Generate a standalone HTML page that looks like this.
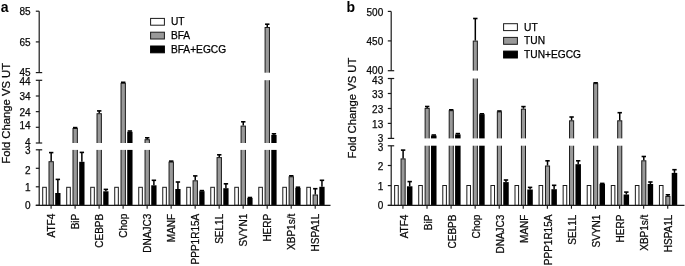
<!DOCTYPE html>
<html><head><meta charset="utf-8"><style>
html,body{margin:0;padding:0;background:#fff;}
body{width:685px;height:266px;overflow:hidden;}
svg{display:block;filter:grayscale(1);}
.t{font-family:"Liberation Sans",sans-serif;font-size:10px;fill:#0a0a0a;stroke:#0a0a0a;stroke-width:0.25px;}
.x{font-family:"Liberation Sans",sans-serif;font-size:10px;fill:#0a0a0a;stroke:#0a0a0a;stroke-width:0.25px;}
.lg{font-family:"Liberation Sans",sans-serif;font-size:10.2px;fill:#000;stroke:#000;stroke-width:0.25px;}
.yt{font-family:"Liberation Sans",sans-serif;font-size:11.28px;fill:#0a0a0a;stroke:#0a0a0a;stroke-width:0.25px;}
.pl{font-family:"Liberation Sans",sans-serif;font-size:14px;font-weight:bold;fill:#000;}
</style></head><body>
<svg width="685" height="266" viewBox="0 0 685 266">
<rect width="685" height="266" fill="#fff"/>
<rect x="42.7" y="187.3" width="3.6" height="18" fill="#fff" stroke="#1a1a1a" stroke-width="1"/>
<rect x="49" y="161.7" width="4.35" height="43.6" fill="#999999" stroke="#1a1a1a" stroke-width="1"/>
<line x1="51.17" y1="152.6" x2="51.17" y2="161.2" stroke="#000" stroke-width="1.5"/>
<line x1="48.97" y1="152.6" x2="53.38" y2="152.6" stroke="#000" stroke-width="1.6"/>
<rect x="55.2" y="193" width="5.3" height="12.3" fill="#000"/>
<line x1="57.85" y1="179.4" x2="57.85" y2="193" stroke="#000" stroke-width="1.5"/>
<line x1="55.65" y1="179.4" x2="60.05" y2="179.4" stroke="#000" stroke-width="1.6"/>
<rect x="66.71" y="187.3" width="3.6" height="18" fill="#fff" stroke="#1a1a1a" stroke-width="1"/>
<rect x="73.01" y="128.5" width="4.35" height="76.8" fill="#999999" stroke="#1a1a1a" stroke-width="1"/>
<line x1="75.19" y1="127.6" x2="75.19" y2="128" stroke="#000" stroke-width="1.5"/>
<line x1="72.98" y1="127.6" x2="77.39" y2="127.6" stroke="#000" stroke-width="1.6"/>
<rect x="79.21" y="161.8" width="5.3" height="43.5" fill="#000"/>
<line x1="81.86" y1="152.4" x2="81.86" y2="161.8" stroke="#000" stroke-width="1.5"/>
<line x1="79.66" y1="152.4" x2="84.06" y2="152.4" stroke="#000" stroke-width="1.6"/>
<rect x="90.72" y="187.3" width="3.6" height="18" fill="#fff" stroke="#1a1a1a" stroke-width="1"/>
<rect x="97.02" y="113.7" width="4.35" height="91.6" fill="#999999" stroke="#1a1a1a" stroke-width="1"/>
<line x1="99.2" y1="110.9" x2="99.2" y2="113.2" stroke="#000" stroke-width="1.5"/>
<line x1="97" y1="110.9" x2="101.4" y2="110.9" stroke="#000" stroke-width="1.6"/>
<rect x="103.22" y="191.3" width="5.3" height="14" fill="#000"/>
<line x1="105.87" y1="189.4" x2="105.87" y2="191.3" stroke="#000" stroke-width="1.5"/>
<line x1="103.67" y1="189.4" x2="108.07" y2="189.4" stroke="#000" stroke-width="1.6"/>
<rect x="114.73" y="187.3" width="3.6" height="18" fill="#fff" stroke="#1a1a1a" stroke-width="1"/>
<rect x="121.03" y="83.3" width="4.35" height="122" fill="#999999" stroke="#1a1a1a" stroke-width="1"/>
<line x1="123.2" y1="82.3" x2="123.2" y2="82.8" stroke="#000" stroke-width="1.5"/>
<line x1="121" y1="82.3" x2="125.41" y2="82.3" stroke="#000" stroke-width="1.6"/>
<rect x="127.23" y="131.8" width="5.3" height="73.5" fill="#000"/>
<line x1="129.88" y1="131" x2="129.88" y2="131.8" stroke="#000" stroke-width="1.5"/>
<line x1="127.68" y1="131" x2="132.08" y2="131" stroke="#000" stroke-width="1.6"/>
<rect x="138.74" y="187.3" width="3.6" height="18" fill="#fff" stroke="#1a1a1a" stroke-width="1"/>
<rect x="145.04" y="139.7" width="4.35" height="65.6" fill="#999999" stroke="#1a1a1a" stroke-width="1"/>
<line x1="147.22" y1="137.8" x2="147.22" y2="139.2" stroke="#000" stroke-width="1.5"/>
<line x1="145.02" y1="137.8" x2="149.42" y2="137.8" stroke="#000" stroke-width="1.6"/>
<rect x="151.24" y="185.3" width="5.3" height="20" fill="#000"/>
<line x1="153.89" y1="180.3" x2="153.89" y2="185.3" stroke="#000" stroke-width="1.5"/>
<line x1="151.69" y1="180.3" x2="156.09" y2="180.3" stroke="#000" stroke-width="1.6"/>
<rect x="162.75" y="187.3" width="3.6" height="18" fill="#fff" stroke="#1a1a1a" stroke-width="1"/>
<rect x="169.05" y="162.1" width="4.35" height="43.2" fill="#999999" stroke="#1a1a1a" stroke-width="1"/>
<line x1="171.23" y1="161.1" x2="171.23" y2="161.6" stroke="#000" stroke-width="1.5"/>
<line x1="169.03" y1="161.1" x2="173.43" y2="161.1" stroke="#000" stroke-width="1.6"/>
<rect x="175.25" y="189" width="5.3" height="16.3" fill="#000"/>
<line x1="177.9" y1="182" x2="177.9" y2="189" stroke="#000" stroke-width="1.5"/>
<line x1="175.7" y1="182" x2="180.1" y2="182" stroke="#000" stroke-width="1.6"/>
<rect x="186.76" y="187.3" width="3.6" height="18" fill="#fff" stroke="#1a1a1a" stroke-width="1"/>
<rect x="193.06" y="180.8" width="4.35" height="24.5" fill="#999999" stroke="#1a1a1a" stroke-width="1"/>
<line x1="195.24" y1="175.9" x2="195.24" y2="180.3" stroke="#000" stroke-width="1.5"/>
<line x1="193.04" y1="175.9" x2="197.44" y2="175.9" stroke="#000" stroke-width="1.6"/>
<rect x="199.26" y="191.2" width="5.3" height="14.1" fill="#000"/>
<line x1="201.91" y1="190.6" x2="201.91" y2="191.2" stroke="#000" stroke-width="1.5"/>
<line x1="199.71" y1="190.6" x2="204.11" y2="190.6" stroke="#000" stroke-width="1.6"/>
<rect x="210.77" y="187.3" width="3.6" height="18" fill="#fff" stroke="#1a1a1a" stroke-width="1"/>
<rect x="217.07" y="157.6" width="4.35" height="47.7" fill="#999999" stroke="#1a1a1a" stroke-width="1"/>
<line x1="219.25" y1="154.8" x2="219.25" y2="157.1" stroke="#000" stroke-width="1.5"/>
<line x1="217.05" y1="154.8" x2="221.44" y2="154.8" stroke="#000" stroke-width="1.6"/>
<rect x="223.27" y="188.2" width="5.3" height="17.1" fill="#000"/>
<line x1="225.92" y1="183.8" x2="225.92" y2="188.2" stroke="#000" stroke-width="1.5"/>
<line x1="223.72" y1="183.8" x2="228.12" y2="183.8" stroke="#000" stroke-width="1.6"/>
<rect x="234.78" y="187.3" width="3.6" height="18" fill="#fff" stroke="#1a1a1a" stroke-width="1"/>
<rect x="241.08" y="126.1" width="4.35" height="79.2" fill="#999999" stroke="#1a1a1a" stroke-width="1"/>
<line x1="243.25" y1="121.8" x2="243.25" y2="125.6" stroke="#000" stroke-width="1.5"/>
<line x1="241.06" y1="121.8" x2="245.45" y2="121.8" stroke="#000" stroke-width="1.6"/>
<rect x="247.28" y="198" width="5.3" height="7.3" fill="#000"/>
<line x1="249.93" y1="197.5" x2="249.93" y2="198" stroke="#000" stroke-width="1.5"/>
<line x1="247.73" y1="197.5" x2="252.13" y2="197.5" stroke="#000" stroke-width="1.6"/>
<rect x="258.79" y="187.3" width="3.6" height="18" fill="#fff" stroke="#1a1a1a" stroke-width="1"/>
<rect x="265.09" y="27.5" width="4.35" height="177.8" fill="#999999" stroke="#1a1a1a" stroke-width="1"/>
<line x1="267.26" y1="24.2" x2="267.26" y2="27" stroke="#000" stroke-width="1.5"/>
<line x1="265.06" y1="24.2" x2="269.46" y2="24.2" stroke="#000" stroke-width="1.6"/>
<rect x="271.29" y="135" width="5.3" height="70.3" fill="#000"/>
<line x1="273.94" y1="133.8" x2="273.94" y2="135" stroke="#000" stroke-width="1.5"/>
<line x1="271.74" y1="133.8" x2="276.14" y2="133.8" stroke="#000" stroke-width="1.6"/>
<rect x="282.8" y="187.3" width="3.6" height="18" fill="#fff" stroke="#1a1a1a" stroke-width="1"/>
<rect x="289.1" y="176.8" width="4.35" height="28.5" fill="#999999" stroke="#1a1a1a" stroke-width="1"/>
<line x1="291.28" y1="175.8" x2="291.28" y2="176.3" stroke="#000" stroke-width="1.5"/>
<line x1="289.08" y1="175.8" x2="293.48" y2="175.8" stroke="#000" stroke-width="1.6"/>
<rect x="295.3" y="187.9" width="5.3" height="17.4" fill="#000"/>
<line x1="297.95" y1="187.2" x2="297.95" y2="187.9" stroke="#000" stroke-width="1.5"/>
<line x1="295.75" y1="187.2" x2="300.15" y2="187.2" stroke="#000" stroke-width="1.6"/>
<rect x="306.81" y="187.3" width="3.6" height="18" fill="#fff" stroke="#1a1a1a" stroke-width="1"/>
<rect x="313.11" y="195" width="4.35" height="10.3" fill="#999999" stroke="#1a1a1a" stroke-width="1"/>
<line x1="315.29" y1="188.7" x2="315.29" y2="194.5" stroke="#000" stroke-width="1.5"/>
<line x1="313.09" y1="188.7" x2="317.49" y2="188.7" stroke="#000" stroke-width="1.6"/>
<rect x="319.31" y="186.8" width="5.3" height="18.5" fill="#000"/>
<line x1="321.96" y1="180.3" x2="321.96" y2="186.8" stroke="#000" stroke-width="1.5"/>
<line x1="319.76" y1="180.3" x2="324.16" y2="180.3" stroke="#000" stroke-width="1.6"/>
<rect x="40.7" y="143" width="291.3" height="6.9" fill="#fff"/>
<rect x="40.7" y="72.7" width="291.3" height="7.5" fill="#fff"/>
<line x1="39.2" y1="11.2" x2="39.2" y2="72.6" stroke="#1a1a1a" stroke-width="1.2"/>
<line x1="35.8" y1="11.2" x2="39.2" y2="11.2" stroke="#1a1a1a" stroke-width="1.2"/>
<line x1="35.8" y1="72.6" x2="42.2" y2="72.6" stroke="#1a1a1a" stroke-width="1.2"/>
<line x1="39.2" y1="80.3" x2="39.2" y2="143" stroke="#1a1a1a" stroke-width="1.2"/>
<line x1="35.8" y1="80.3" x2="42.2" y2="80.3" stroke="#1a1a1a" stroke-width="1.2"/>
<line x1="35.8" y1="143" x2="42.2" y2="143" stroke="#1a1a1a" stroke-width="1.2"/>
<line x1="39.2" y1="149.8" x2="39.2" y2="205.3" stroke="#1a1a1a" stroke-width="1.2"/>
<line x1="35.8" y1="149.8" x2="42.2" y2="149.8" stroke="#1a1a1a" stroke-width="1.2"/>
<line x1="35.8" y1="205.3" x2="39.2" y2="205.3" stroke="#1a1a1a" stroke-width="1.2"/>
<line x1="35.8" y1="41.9" x2="39.2" y2="41.9" stroke="#1a1a1a" stroke-width="1.2"/>
<line x1="35.8" y1="96" x2="39.2" y2="96" stroke="#1a1a1a" stroke-width="1.2"/>
<line x1="35.8" y1="111.65" x2="39.2" y2="111.65" stroke="#1a1a1a" stroke-width="1.2"/>
<line x1="35.8" y1="127.3" x2="39.2" y2="127.3" stroke="#1a1a1a" stroke-width="1.2"/>
<line x1="35.8" y1="168.3" x2="39.2" y2="168.3" stroke="#1a1a1a" stroke-width="1.2"/>
<line x1="35.8" y1="186.8" x2="39.2" y2="186.8" stroke="#1a1a1a" stroke-width="1.2"/>
<text transform="translate(30.6,15)" text-anchor="end" class="t">85</text>
<text transform="translate(30.6,45.7)" text-anchor="end" class="t">65</text>
<text transform="translate(30.6,75.8)" text-anchor="end" class="t">45</text>
<text transform="translate(30.6,84.9)" text-anchor="end" class="t">44</text>
<text transform="translate(30.6,100.1)" text-anchor="end" class="t">34</text>
<text transform="translate(30.6,115.7)" text-anchor="end" class="t">24</text>
<text transform="translate(30.6,129.2)" text-anchor="end" class="t">14</text>
<text transform="translate(30.6,145.8)" text-anchor="end" class="t">4</text>
<text transform="translate(30.6,154.1)" text-anchor="end" class="t">3</text>
<text transform="translate(30.6,173.6)" text-anchor="end" class="t">2</text>
<text transform="translate(30.6,191.1)" text-anchor="end" class="t">1</text>
<text transform="translate(30.6,209.2)" text-anchor="end" class="t">0</text>
<line x1="35.8" y1="205.3" x2="330.5" y2="205.3" stroke="#1a1a1a" stroke-width="1.2"/>
<line x1="51.1" y1="205.3" x2="51.1" y2="208.7" stroke="#1a1a1a" stroke-width="1.1"/>
<text transform="translate(55.3,213.8) rotate(-90)" text-anchor="end" class="x">ATF4</text>
<line x1="75.11" y1="205.3" x2="75.11" y2="208.7" stroke="#1a1a1a" stroke-width="1.1"/>
<text transform="translate(79.31,213.8) rotate(-90)" text-anchor="end" class="x">BiP</text>
<line x1="99.12" y1="205.3" x2="99.12" y2="208.7" stroke="#1a1a1a" stroke-width="1.1"/>
<text transform="translate(103.32,213.8) rotate(-90)" text-anchor="end" class="x">CEBPB</text>
<line x1="123.13" y1="205.3" x2="123.13" y2="208.7" stroke="#1a1a1a" stroke-width="1.1"/>
<text transform="translate(127.33,213.8) rotate(-90)" text-anchor="end" class="x">Chop</text>
<line x1="147.14" y1="205.3" x2="147.14" y2="208.7" stroke="#1a1a1a" stroke-width="1.1"/>
<text transform="translate(151.34,213.8) rotate(-90)" text-anchor="end" class="x">DNAJC3</text>
<line x1="171.15" y1="205.3" x2="171.15" y2="208.7" stroke="#1a1a1a" stroke-width="1.1"/>
<text transform="translate(175.35,213.8) rotate(-90)" text-anchor="end" class="x">MANF</text>
<line x1="195.16" y1="205.3" x2="195.16" y2="208.7" stroke="#1a1a1a" stroke-width="1.1"/>
<text transform="translate(199.36,213.8) rotate(-90)" text-anchor="end" class="x">PPP1R15A</text>
<line x1="219.17" y1="205.3" x2="219.17" y2="208.7" stroke="#1a1a1a" stroke-width="1.1"/>
<text transform="translate(223.37,213.8) rotate(-90)" text-anchor="end" class="x">SEL1L</text>
<line x1="243.18" y1="205.3" x2="243.18" y2="208.7" stroke="#1a1a1a" stroke-width="1.1"/>
<text transform="translate(247.38,213.8) rotate(-90)" text-anchor="end" class="x">SVYN1</text>
<line x1="267.19" y1="205.3" x2="267.19" y2="208.7" stroke="#1a1a1a" stroke-width="1.1"/>
<text transform="translate(271.39,213.8) rotate(-90)" text-anchor="end" class="x">HERP</text>
<line x1="291.2" y1="205.3" x2="291.2" y2="208.7" stroke="#1a1a1a" stroke-width="1.1"/>
<text transform="translate(295.4,213.8) rotate(-90)" text-anchor="end" class="x">XBP1s/t</text>
<line x1="315.21" y1="205.3" x2="315.21" y2="208.7" stroke="#1a1a1a" stroke-width="1.1"/>
<text transform="translate(319.41,213.8) rotate(-90)" text-anchor="end" class="x">HSPA1L</text>
<text transform="translate(9.8,113.3) rotate(-90)" text-anchor="middle" class="yt">Fold Change VS UT</text>
<text x="0.7" y="11.7" class="pl">a</text>
<rect x="150.6" y="18.4" width="13.8" height="6.8" fill="#fff" stroke="#1a1a1a" stroke-width="1"/>
<text x="170.9" y="25.3" class="lg">UT</text>
<rect x="150.6" y="32.2" width="13.8" height="6.8" fill="#999999" stroke="#1a1a1a" stroke-width="1"/>
<text x="170.9" y="39.1" class="lg">BFA</text>
<rect x="150.6" y="46" width="13.8" height="6.8" fill="#000" stroke="#000" stroke-width="1"/>
<text x="170.9" y="52.9" class="lg">BFA+EGCG</text>
<rect x="394.65" y="185.5" width="3.6" height="19.9" fill="#fff" stroke="#1a1a1a" stroke-width="1"/>
<rect x="401.05" y="158.9" width="4.1" height="46.5" fill="#999999" stroke="#1a1a1a" stroke-width="1"/>
<line x1="403.1" y1="150.1" x2="403.1" y2="158.4" stroke="#000" stroke-width="1.5"/>
<line x1="400.9" y1="150.1" x2="405.3" y2="150.1" stroke="#000" stroke-width="1.6"/>
<rect x="406.95" y="186.3" width="5.5" height="19.1" fill="#000"/>
<line x1="409.7" y1="181.6" x2="409.7" y2="186.3" stroke="#000" stroke-width="1.5"/>
<line x1="407.5" y1="181.6" x2="411.9" y2="181.6" stroke="#000" stroke-width="1.6"/>
<rect x="418.72" y="185.5" width="3.6" height="19.9" fill="#fff" stroke="#1a1a1a" stroke-width="1"/>
<rect x="425.12" y="108.4" width="4.1" height="97" fill="#999999" stroke="#1a1a1a" stroke-width="1"/>
<line x1="427.17" y1="106.5" x2="427.17" y2="107.9" stroke="#000" stroke-width="1.5"/>
<line x1="424.97" y1="106.5" x2="429.37" y2="106.5" stroke="#000" stroke-width="1.6"/>
<rect x="431.02" y="135.5" width="5.5" height="69.9" fill="#000"/>
<line x1="433.77" y1="135" x2="433.77" y2="135.5" stroke="#000" stroke-width="1.5"/>
<line x1="431.57" y1="135" x2="435.97" y2="135" stroke="#000" stroke-width="1.6"/>
<rect x="442.79" y="185.5" width="3.6" height="19.9" fill="#fff" stroke="#1a1a1a" stroke-width="1"/>
<rect x="449.19" y="110.7" width="4.1" height="94.7" fill="#999999" stroke="#1a1a1a" stroke-width="1"/>
<line x1="451.24" y1="109.8" x2="451.24" y2="110.2" stroke="#000" stroke-width="1.5"/>
<line x1="449.04" y1="109.8" x2="453.44" y2="109.8" stroke="#000" stroke-width="1.6"/>
<rect x="455.09" y="134.4" width="5.5" height="71" fill="#000"/>
<line x1="457.84" y1="133.6" x2="457.84" y2="134.4" stroke="#000" stroke-width="1.5"/>
<line x1="455.64" y1="133.6" x2="460.04" y2="133.6" stroke="#000" stroke-width="1.6"/>
<rect x="466.86" y="185.5" width="3.6" height="19.9" fill="#fff" stroke="#1a1a1a" stroke-width="1"/>
<rect x="473.26" y="41.1" width="4.1" height="164.3" fill="#999999" stroke="#1a1a1a" stroke-width="1"/>
<line x1="475.31" y1="18.5" x2="475.31" y2="40.6" stroke="#000" stroke-width="1.5"/>
<line x1="473.11" y1="18.5" x2="477.51" y2="18.5" stroke="#000" stroke-width="1.6"/>
<rect x="479.16" y="114.2" width="5.5" height="91.2" fill="#000"/>
<line x1="481.91" y1="113.8" x2="481.91" y2="114.2" stroke="#000" stroke-width="1.5"/>
<line x1="479.71" y1="113.8" x2="484.11" y2="113.8" stroke="#000" stroke-width="1.6"/>
<rect x="490.93" y="185.5" width="3.6" height="19.9" fill="#fff" stroke="#1a1a1a" stroke-width="1"/>
<rect x="497.33" y="111.9" width="4.1" height="93.5" fill="#999999" stroke="#1a1a1a" stroke-width="1"/>
<line x1="499.38" y1="111" x2="499.38" y2="111.4" stroke="#000" stroke-width="1.5"/>
<line x1="497.18" y1="111" x2="501.58" y2="111" stroke="#000" stroke-width="1.6"/>
<rect x="503.23" y="182.1" width="5.5" height="23.3" fill="#000"/>
<line x1="505.98" y1="180" x2="505.98" y2="182.1" stroke="#000" stroke-width="1.5"/>
<line x1="503.78" y1="180" x2="508.18" y2="180" stroke="#000" stroke-width="1.6"/>
<rect x="515" y="185.5" width="3.6" height="19.9" fill="#fff" stroke="#1a1a1a" stroke-width="1"/>
<rect x="521.4" y="109.2" width="4.1" height="96.2" fill="#999999" stroke="#1a1a1a" stroke-width="1"/>
<line x1="523.45" y1="106.6" x2="523.45" y2="108.7" stroke="#000" stroke-width="1.5"/>
<line x1="521.25" y1="106.6" x2="525.65" y2="106.6" stroke="#000" stroke-width="1.6"/>
<rect x="527.3" y="189.5" width="5.5" height="15.9" fill="#000"/>
<line x1="530.05" y1="187.4" x2="530.05" y2="189.5" stroke="#000" stroke-width="1.5"/>
<line x1="527.85" y1="187.4" x2="532.25" y2="187.4" stroke="#000" stroke-width="1.6"/>
<rect x="539.07" y="185.5" width="3.6" height="19.9" fill="#fff" stroke="#1a1a1a" stroke-width="1"/>
<rect x="545.47" y="166" width="4.1" height="39.4" fill="#999999" stroke="#1a1a1a" stroke-width="1"/>
<line x1="547.52" y1="160.8" x2="547.52" y2="165.5" stroke="#000" stroke-width="1.5"/>
<line x1="545.32" y1="160.8" x2="549.72" y2="160.8" stroke="#000" stroke-width="1.6"/>
<rect x="551.37" y="189.2" width="5.5" height="16.2" fill="#000"/>
<line x1="554.12" y1="185.3" x2="554.12" y2="189.2" stroke="#000" stroke-width="1.5"/>
<line x1="551.92" y1="185.3" x2="556.32" y2="185.3" stroke="#000" stroke-width="1.6"/>
<rect x="563.14" y="185.5" width="3.6" height="19.9" fill="#fff" stroke="#1a1a1a" stroke-width="1"/>
<rect x="569.54" y="120.8" width="4.1" height="84.6" fill="#999999" stroke="#1a1a1a" stroke-width="1"/>
<line x1="571.59" y1="117" x2="571.59" y2="120.3" stroke="#000" stroke-width="1.5"/>
<line x1="569.39" y1="117" x2="573.79" y2="117" stroke="#000" stroke-width="1.6"/>
<rect x="575.44" y="164.2" width="5.5" height="41.2" fill="#000"/>
<line x1="578.19" y1="160.8" x2="578.19" y2="164.2" stroke="#000" stroke-width="1.5"/>
<line x1="575.99" y1="160.8" x2="580.39" y2="160.8" stroke="#000" stroke-width="1.6"/>
<rect x="587.21" y="185.5" width="3.6" height="19.9" fill="#fff" stroke="#1a1a1a" stroke-width="1"/>
<rect x="593.61" y="83.7" width="4.1" height="121.7" fill="#999999" stroke="#1a1a1a" stroke-width="1"/>
<line x1="595.66" y1="82.8" x2="595.66" y2="83.2" stroke="#000" stroke-width="1.5"/>
<line x1="593.46" y1="82.8" x2="597.86" y2="82.8" stroke="#000" stroke-width="1.6"/>
<rect x="599.51" y="183.8" width="5.5" height="21.6" fill="#000"/>
<line x1="602.26" y1="183.4" x2="602.26" y2="183.8" stroke="#000" stroke-width="1.5"/>
<line x1="600.06" y1="183.4" x2="604.46" y2="183.4" stroke="#000" stroke-width="1.6"/>
<rect x="611.28" y="185.5" width="3.6" height="19.9" fill="#fff" stroke="#1a1a1a" stroke-width="1"/>
<rect x="617.68" y="120.8" width="4.1" height="84.6" fill="#999999" stroke="#1a1a1a" stroke-width="1"/>
<line x1="619.73" y1="112.7" x2="619.73" y2="120.3" stroke="#000" stroke-width="1.5"/>
<line x1="617.53" y1="112.7" x2="621.93" y2="112.7" stroke="#000" stroke-width="1.6"/>
<rect x="623.58" y="194.5" width="5.5" height="10.9" fill="#000"/>
<line x1="626.33" y1="192.1" x2="626.33" y2="194.5" stroke="#000" stroke-width="1.5"/>
<line x1="624.13" y1="192.1" x2="628.53" y2="192.1" stroke="#000" stroke-width="1.6"/>
<rect x="635.35" y="185.5" width="3.6" height="19.9" fill="#fff" stroke="#1a1a1a" stroke-width="1"/>
<rect x="641.75" y="160.8" width="4.1" height="44.6" fill="#999999" stroke="#1a1a1a" stroke-width="1"/>
<line x1="643.8" y1="156.5" x2="643.8" y2="160.3" stroke="#000" stroke-width="1.5"/>
<line x1="641.6" y1="156.5" x2="646" y2="156.5" stroke="#000" stroke-width="1.6"/>
<rect x="647.65" y="184" width="5.5" height="21.4" fill="#000"/>
<line x1="650.4" y1="182" x2="650.4" y2="184" stroke="#000" stroke-width="1.5"/>
<line x1="648.2" y1="182" x2="652.6" y2="182" stroke="#000" stroke-width="1.6"/>
<rect x="659.42" y="185.5" width="3.6" height="19.9" fill="#fff" stroke="#1a1a1a" stroke-width="1"/>
<rect x="665.82" y="196.5" width="4.1" height="8.9" fill="#999999" stroke="#1a1a1a" stroke-width="1"/>
<line x1="667.87" y1="194.8" x2="667.87" y2="196" stroke="#000" stroke-width="1.5"/>
<line x1="665.67" y1="194.8" x2="670.07" y2="194.8" stroke="#000" stroke-width="1.6"/>
<rect x="671.72" y="172.9" width="5.5" height="32.5" fill="#000"/>
<line x1="674.47" y1="169.7" x2="674.47" y2="172.9" stroke="#000" stroke-width="1.5"/>
<line x1="672.27" y1="169.7" x2="676.67" y2="169.7" stroke="#000" stroke-width="1.6"/>
<rect x="392.7" y="138.4" width="293.3" height="7.3" fill="#fff"/>
<rect x="392.7" y="70.6" width="293.3" height="7.9" fill="#fff"/>
<line x1="391.2" y1="11.4" x2="391.2" y2="70.7" stroke="#1a1a1a" stroke-width="1.2"/>
<line x1="387.8" y1="11.4" x2="391.2" y2="11.4" stroke="#1a1a1a" stroke-width="1.2"/>
<line x1="387.8" y1="70.7" x2="394.2" y2="70.7" stroke="#1a1a1a" stroke-width="1.2"/>
<line x1="391.2" y1="78.5" x2="391.2" y2="138.4" stroke="#1a1a1a" stroke-width="1.2"/>
<line x1="387.8" y1="78.5" x2="394.2" y2="78.5" stroke="#1a1a1a" stroke-width="1.2"/>
<line x1="387.8" y1="138.4" x2="394.2" y2="138.4" stroke="#1a1a1a" stroke-width="1.2"/>
<line x1="391.2" y1="145.8" x2="391.2" y2="205.4" stroke="#1a1a1a" stroke-width="1.2"/>
<line x1="387.8" y1="145.8" x2="394.2" y2="145.8" stroke="#1a1a1a" stroke-width="1.2"/>
<line x1="387.8" y1="205.4" x2="391.2" y2="205.4" stroke="#1a1a1a" stroke-width="1.2"/>
<line x1="387.8" y1="40.9" x2="391.2" y2="40.9" stroke="#1a1a1a" stroke-width="1.2"/>
<line x1="387.8" y1="93.5" x2="391.2" y2="93.5" stroke="#1a1a1a" stroke-width="1.2"/>
<line x1="387.8" y1="108.5" x2="391.2" y2="108.5" stroke="#1a1a1a" stroke-width="1.2"/>
<line x1="387.8" y1="123.4" x2="391.2" y2="123.4" stroke="#1a1a1a" stroke-width="1.2"/>
<line x1="387.8" y1="165.5" x2="391.2" y2="165.5" stroke="#1a1a1a" stroke-width="1.2"/>
<line x1="387.8" y1="185.6" x2="391.2" y2="185.6" stroke="#1a1a1a" stroke-width="1.2"/>
<text transform="translate(383.2,15.55)" text-anchor="end" class="t">500</text>
<text transform="translate(383.2,44.6)" text-anchor="end" class="t">450</text>
<text transform="translate(383.2,73.8)" text-anchor="end" class="t">400</text>
<text transform="translate(383.2,84)" text-anchor="end" class="t">43</text>
<text transform="translate(383.2,97.6)" text-anchor="end" class="t">33</text>
<text transform="translate(383.2,112.6)" text-anchor="end" class="t">23</text>
<text transform="translate(383.2,127.9)" text-anchor="end" class="t">13</text>
<text transform="translate(383.2,141.5)" text-anchor="end" class="t">3</text>
<text transform="translate(383.2,150.7)" text-anchor="end" class="t">3</text>
<text transform="translate(383.2,170.2)" text-anchor="end" class="t">2</text>
<text transform="translate(383.2,189.8)" text-anchor="end" class="t">1</text>
<text transform="translate(383.2,209.2)" text-anchor="end" class="t">0</text>
<line x1="387.8" y1="205.4" x2="684.5" y2="205.4" stroke="#1a1a1a" stroke-width="1.2"/>
<line x1="402.95" y1="205.4" x2="402.95" y2="208.8" stroke="#1a1a1a" stroke-width="1.1"/>
<text transform="translate(407.55,214.6) rotate(-90)" text-anchor="end" class="x">ATF4</text>
<line x1="427.02" y1="205.4" x2="427.02" y2="208.8" stroke="#1a1a1a" stroke-width="1.1"/>
<text transform="translate(431.62,214.6) rotate(-90)" text-anchor="end" class="x">BiP</text>
<line x1="451.09" y1="205.4" x2="451.09" y2="208.8" stroke="#1a1a1a" stroke-width="1.1"/>
<text transform="translate(455.69,214.6) rotate(-90)" text-anchor="end" class="x">CEBPB</text>
<line x1="475.16" y1="205.4" x2="475.16" y2="208.8" stroke="#1a1a1a" stroke-width="1.1"/>
<text transform="translate(479.76,214.6) rotate(-90)" text-anchor="end" class="x">Chop</text>
<line x1="499.23" y1="205.4" x2="499.23" y2="208.8" stroke="#1a1a1a" stroke-width="1.1"/>
<text transform="translate(503.83,214.6) rotate(-90)" text-anchor="end" class="x">DNAJC3</text>
<line x1="523.3" y1="205.4" x2="523.3" y2="208.8" stroke="#1a1a1a" stroke-width="1.1"/>
<text transform="translate(527.9,214.6) rotate(-90)" text-anchor="end" class="x">MANF</text>
<line x1="547.37" y1="205.4" x2="547.37" y2="208.8" stroke="#1a1a1a" stroke-width="1.1"/>
<text transform="translate(551.97,214.6) rotate(-90)" text-anchor="end" class="x">PPP1R15A</text>
<line x1="571.44" y1="205.4" x2="571.44" y2="208.8" stroke="#1a1a1a" stroke-width="1.1"/>
<text transform="translate(576.04,214.6) rotate(-90)" text-anchor="end" class="x">SEL1L</text>
<line x1="595.51" y1="205.4" x2="595.51" y2="208.8" stroke="#1a1a1a" stroke-width="1.1"/>
<text transform="translate(600.11,214.6) rotate(-90)" text-anchor="end" class="x">SVYN1</text>
<line x1="619.58" y1="205.4" x2="619.58" y2="208.8" stroke="#1a1a1a" stroke-width="1.1"/>
<text transform="translate(624.18,214.6) rotate(-90)" text-anchor="end" class="x">HERP</text>
<line x1="643.65" y1="205.4" x2="643.65" y2="208.8" stroke="#1a1a1a" stroke-width="1.1"/>
<text transform="translate(648.25,214.6) rotate(-90)" text-anchor="end" class="x">XBP1s/t</text>
<line x1="667.72" y1="205.4" x2="667.72" y2="208.8" stroke="#1a1a1a" stroke-width="1.1"/>
<text transform="translate(672.32,214.6) rotate(-90)" text-anchor="end" class="x">HSPA1L</text>
<text transform="translate(355.9,108.1) rotate(-90)" text-anchor="middle" class="yt">Fold Change VS UT</text>
<text x="346.4" y="11.7" class="pl">b</text>
<rect x="503.6" y="23.7" width="13.8" height="6.9" fill="#fff" stroke="#1a1a1a" stroke-width="1"/>
<text x="524.1" y="30.6" class="lg">UT</text>
<rect x="503.6" y="37.4" width="13.8" height="6.9" fill="#999999" stroke="#1a1a1a" stroke-width="1"/>
<text x="524.1" y="44.3" class="lg">TUN</text>
<rect x="503.6" y="51.1" width="13.8" height="6.9" fill="#000" stroke="#000" stroke-width="1"/>
<text x="524.1" y="58" class="lg">TUN+EGCG</text>
</svg>
</body></html>
